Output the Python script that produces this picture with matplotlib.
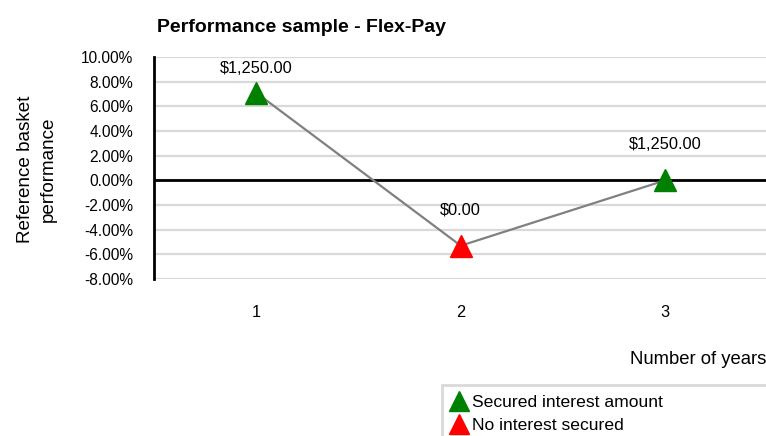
import matplotlib.pyplot as plt
from matplotlib.lines import Line2D
from matplotlib.patches import Rectangle

plt.rcParams['font.family'] = ['Liberation Sans', 'DejaVu Sans']

# chart data
years = [1, 2, 3]
year_labels = ['1', '2', '3']
performance = [7.1, -5.3, 0.0]          # reference basket performance in %
secured = [True, False, True]           # interest secured that year?
payout_labels = ['$1,250.00', '$0.00', '$1,250.00']
y_ticks = [10, 8, 6, 4, 2, 0, -2, -4, -6, -8]

W, H = 766, 436
fig = plt.figure(figsize=(W / 100, H / 100), dpi=100)
ax = fig.add_axes([154 / W, 1 - 279 / H, (W - 154) / W + 0.002, (279 - 57) / H])

# gridlines
for t in y_ticks:
    ax.axhline(t, color='#d9d9d9', linewidth=1.6, zorder=0)
ax.axhline(0, color='black', linewidth=2, zorder=1)

# connecting line and markers
ax.plot(years, performance, color='#808080', linewidth=1.6, zorder=2)
for x, y, ok, lab in zip(years, performance, secured, payout_labels):
    col = 'green' if ok else 'red'
    ax.plot(x, y, marker='^', markersize=16, color=col, markeredgecolor=col,
            linestyle='none', zorder=3)
    # label sits ~2.9 units above the point but stays inside the plot area
    ax.text(x, min(y + 2.9, 9.1), lab, ha='center', va='center', fontsize=11.8)

ax.set_xlim(0.5, 3.5)
ax.set_ylim(-8, 10)
ax.set_yticks(y_ticks)
ax.set_yticklabels([f'{t:.2f}%' for t in y_ticks])
ax.set_xticks(years)
ax.set_xticklabels(year_labels)
ax.tick_params(axis='y', length=0, pad=15, labelsize=11.2)
ax.tick_params(axis='x', length=0, pad=19, labelsize=11.8)

for s in ['top', 'right', 'bottom']:
    ax.spines[s].set_visible(False)
ax.spines['left'].set_linewidth(2)
ax.spines['left'].set_color('black')

# titles and axis labels
fig.text(157 / W, 1 - 32 / H, 'Performance sample - Flex-Pay', fontsize=14,
         fontweight='bold', ha='left', va='baseline')
fig.text(37 / W, 1 - 169 / H, 'Reference basket\nperformance', rotation=90,
         ha='center', va='center', multialignment='center', fontsize=13.6,
         linespacing=1.45)
fig.text(1.0, 1 - 364 / H, 'Number of years', ha='right', va='baseline',
         fontsize=13.3)

# legend box (runs off the figure edge)
fig.patches.append(Rectangle((442 / W, -0.1), 0.5, 1 - 385 / H + 0.1,
                             transform=fig.transFigure, facecolor='white',
                             edgecolor='#d9d9d9', linewidth=2))
handles = [Line2D([], [], marker='^', color='green', linestyle='none', markersize=15),
           Line2D([], [], marker='^', color='red', linestyle='none', markersize=15)]
fig.legend(handles, ['Secured interest amount', 'No interest secured'],
           loc='upper left', bbox_to_anchor=(448 / W, 1 - 395 / H),
           frameon=False, fontsize=12.6, handlelength=1.25, handletextpad=0.15,
           borderpad=0, borderaxespad=0, labelspacing=0.45)

fig.savefig('out.png', dpi=100)
